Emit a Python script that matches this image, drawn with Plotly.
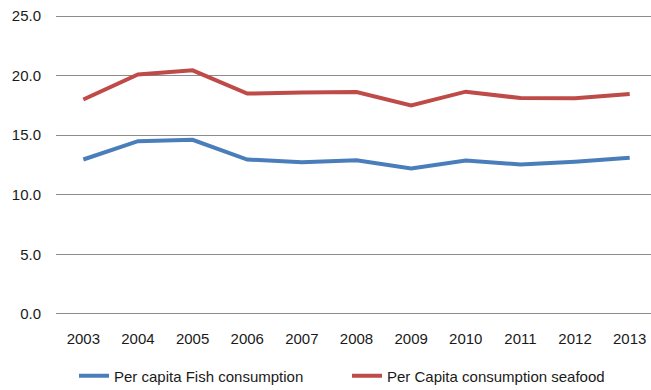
import plotly.graph_objects as go

years = ["2003", "2004", "2005", "2006", "2007", "2008", "2009", "2010", "2011", "2012", "2013"]
fish = [12.96, 14.5, 14.62, 12.96, 12.74, 12.9, 12.2, 12.88, 12.54, 12.77, 13.1]
seafood = [18.0, 20.1, 20.45, 18.5, 18.58, 18.63, 17.5, 18.66, 18.12, 18.1, 18.46]
y_ticks = [0, 5, 10, 15, 20, 25]
y_tick_labels = ["0.0", "5.0", "10.0", "15.0", "20.0", "25.0"]

FONT = "Liberation Sans, Arial, sans-serif"

fig = go.Figure()
fig.add_trace(go.Scatter(
    x=years, y=fish, mode="lines", name="Per capita Fish consumption",
    line=dict(color="#4A7EBB", width=4),
))
fig.add_trace(go.Scatter(
    x=years, y=seafood, mode="lines", name="Per Capita consumption seafood",
    line=dict(color="#BE4B48", width=4),
))

fig.update_layout(
    width=651, height=390,
    margin=dict(l=56, r=0, t=15, b=75, autoexpand=False),
    paper_bgcolor="white", plot_bgcolor="white",
    font=dict(family=FONT, size=15, color="#1a1a1a"),
    showlegend=True,
    legend=dict(
        orientation="h", xref="container", yref="container",
        x=74 / 651, xanchor="left", y=1 - 376 / 390, yanchor="middle",
        font=dict(family=FONT, size=15, color="#1a1a1a"),
        entrywidth=228, entrywidthmode="pixels",
        bgcolor="rgba(0,0,0,0)",
    ),
)
# Category x axis; the range runs a little past the last year so the plot
# area reaches the right edge of the page.
fig.update_xaxes(
    type="category", range=[-0.5, 10.39],
    showgrid=False, zeroline=False, showline=False,
    ticks="", ticklabelstandoff=13,
    tickfont=dict(family=FONT, size=15, color="#1a1a1a"),
)
# Slight padding on the y range keeps the 0.0 and 25.0 gridlines visible.
fig.update_yaxes(
    range=[-0.1, 25.1], tickvals=y_ticks, ticktext=y_tick_labels,
    showgrid=True, gridcolor="#8c8c8c", gridwidth=1,
    zeroline=False, showline=False,
    ticks="", ticklabelstandoff=14,
    tickfont=dict(family=FONT, size=15, color="#1a1a1a"),
)

fig.write_html("out.html")
